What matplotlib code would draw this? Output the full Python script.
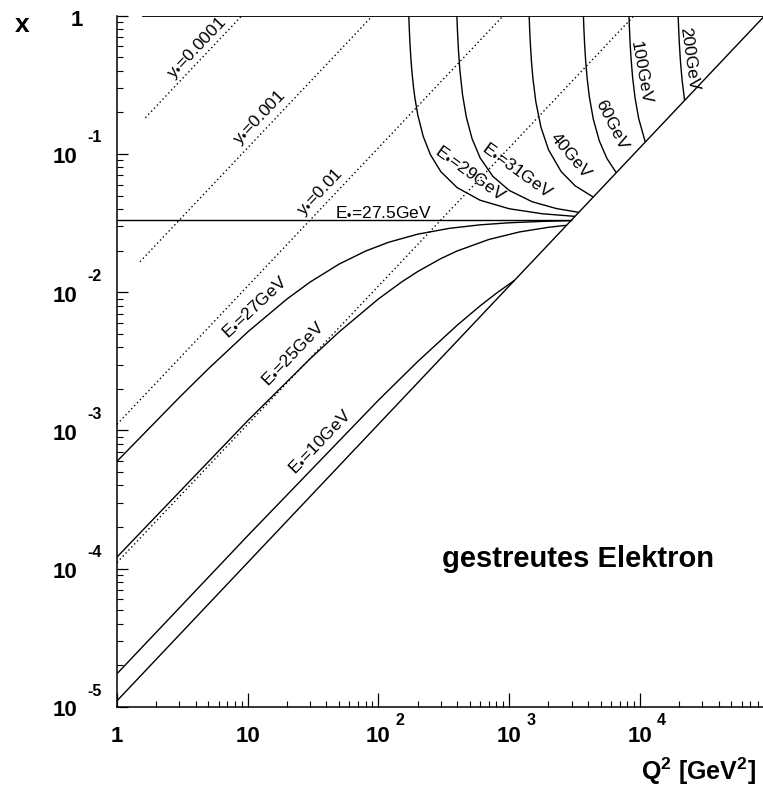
import matplotlib
matplotlib.use('Agg')
import matplotlib.pyplot as plt
from matplotlib.ticker import LogLocator, NullFormatter

plt.rcParams['font.family'] = ['Liberation Sans', 'DejaVu Sans']
plt.rcParams['mathtext.fontset'] = 'custom'
plt.rcParams['mathtext.rm'] = 'Liberation Sans'
plt.rcParams['mathtext.bf'] = 'Liberation Sans:bold'
plt.rcParams['mathtext.it'] = 'Liberation Sans:italic'

# ---------------- data (Q^2 in GeV^2, x) ----------------
# lines of constant scattered-electron energy E'
q2_E10 = [1, 10, 100, 200, 400, 600, 800, 1100]
x_E10 = [1.741e-5, 1.733e-4, 1.656e-3, 3.156e-3, 5.770e-3, 7.969e-3, 9.846e-3, 0.012195]

q2_E25 = [1, 10, 30, 50, 100, 150, 200, 300, 400, 700, 1200, 2000, 2750]
x_E25 = [1.2151e-4, 1.1767e-3, 3.2987e-3, 5.1595e-3, 8.943e-3, 0.011836, 0.014121,
         0.017497, 0.019873, 0.024078, 0.027284, 0.029483, 0.030488]

q2_E27 = [1, 3, 5, 10, 20, 30, 50, 80, 120, 200, 350, 600, 1000, 1800, 2970]
x_E27 = [5.9887e-4, 1.7346e-3, 2.7947e-3, 5.1594e-3, 8.943e-3, 0.011837, 0.015970,
         0.019873, 0.022997, 0.026303, 0.028982, 0.030720, 0.031788, 0.032542, 0.032927]

q2_E275 = [1, 3025]
x_E275 = [0.033537, 0.033537]

q2_E29 = [170.73, 172, 174, 177, 180, 185, 190, 200, 220, 250, 300, 400, 600, 1000, 1800, 3190]
x_E29 = [1.0, 0.82404, 0.64838, 0.49466, 0.40244, 0.31021, 0.25488, 0.19164, 0.13415,
         0.098639, 0.074526, 0.057083, 0.046257, 0.040163, 0.036921, 0.035366]

q2_E31 = [398.36, 402, 410, 420, 440, 470, 520, 600, 750, 1000, 1500, 2300, 3410]
x_E31 = [1.0, 0.79304, 0.55000, 0.40244, 0.26829, 0.18544, 0.12918, 0.093591,
         0.068911, 0.054532, 0.045116, 0.040279, 0.037805]

q2_E40 = [1422.7, 1435, 1450, 1480, 1520, 1600, 1750, 2000, 2500, 3200, 4400]
x_E40 = [1.0, 0.80208, 0.64837, 0.47271, 0.35156, 0.23848, 0.15650, 0.10732,
         0.074526, 0.058804, 0.048780]

q2_E60 = [3699.1, 3730, 3780, 3850, 3950, 4100, 4400, 4900, 5600, 6600]
x_E60 = [1.0, 0.80704, 0.61838, 0.46951, 0.35325, 0.26191, 0.17886, 0.12402, 0.092743, 0.073171]

q2_E100 = [8251.7, 8300, 8400, 8550, 8800, 9200, 9800, 11000]
x_E100 = [1.0, 0.85647, 0.66284, 0.49867, 0.35772, 0.25187, 0.18009, 0.121951]

q2_E200 = [19633.8, 19750, 20000, 20400, 21000, 22000]
x_E200 = [1.0, 0.85464, 0.65438, 0.48011, 0.34779, 0.243902]

# lines of constant inelasticity y (dotted) and the kinematic limits
q2_y00001 = [1.65, 9.02]
x_y00001 = [0.183, 1.0]
q2_y0001 = [1.50, 90.2]
x_y0001 = [0.01663, 1.0]
q2_y001 = [1, 902]
x_y001 = [0.0011086, 1.0]
q2_y01 = [1, 9020]
x_y01 = [1.1086e-4, 1.0]
q2_y1 = [1, 90200]
x_y1 = [1.1086e-5, 1.0]
q2_xmax = [1.57, 90200]
x_xmax = [1.0, 1.0]

# axis tick labels
ytick_vals = [1e-5, 1e-4, 1e-3, 1e-2, 1e-1, 1]
ytick_exps = ['-5', '-4', '-3', '-2', '-1', '']
xtick_vals = [1, 10, 100, 1000, 10000]
xtick_bases = ['1', '10', '10', '10', '10']
xtick_exps = ['', '', '2', '3', '4']

# ---------------- figure ----------------
W, H = 763, 789
fig = plt.figure(figsize=(W / 100, H / 100), dpi=100)
ax = fig.add_axes([117 / W, 1 - 707 / H, 646 / W, (707 - 15.7) / H])
ax.set_xscale('log')
ax.set_yscale('log')
ax.set_xlim(1, 87500)
ax.set_ylim(1e-5, 1)

for s in ['top', 'right']:
    ax.spines[s].set_visible(False)
for s in ['left', 'bottom']:
    ax.spines[s].set_linewidth(1.1)

ax.xaxis.set_minor_locator(LogLocator(base=10, subs=range(2, 10), numticks=30))
ax.yaxis.set_minor_locator(LogLocator(base=10, subs=range(2, 10), numticks=30))
ax.xaxis.set_major_locator(LogLocator(base=10, numticks=30))
ax.yaxis.set_major_locator(LogLocator(base=10, numticks=30))
ax.xaxis.set_major_formatter(NullFormatter())
ax.xaxis.set_minor_formatter(NullFormatter())
ax.yaxis.set_major_formatter(NullFormatter())
ax.yaxis.set_minor_formatter(NullFormatter())
ax.tick_params(axis='x', which='major', direction='in', length=10, width=0.9, top=False)
ax.tick_params(axis='y', which='major', direction='in', length=8, width=0.9, right=False)
ax.tick_params(axis='both', which='minor', direction='in', length=4.3, width=0.8,
               top=False, right=False)

solid = dict(color='black', lw=1.0, solid_capstyle='butt')
dotted = dict(color='black', lw=1.0, linestyle=(0, (1, 2)))

for q, xv in [(q2_E10, x_E10), (q2_E25, x_E25), (q2_E27, x_E27), (q2_E275, x_E275),
              (q2_E29, x_E29), (q2_E31, x_E31), (q2_E40, x_E40), (q2_E60, x_E60),
              (q2_E100, x_E100), (q2_E200, x_E200), (q2_y1, x_y1)]:
    ax.plot(q, xv, **solid)
ax.plot(q2_xmax, x_xmax, color='black', lw=1.3)
for q, xv in [(q2_y00001, x_y00001), (q2_y0001, x_y0001), (q2_y001, x_y001), (q2_y01, x_y01)]:
    ax.plot(q, xv, **dotted)

# curve labels
lab = dict(fontsize=12.5, ha='center', va='center', rotation_mode='anchor', color='black')
ax.text(4.09, 0.584, r'y$_{•}$=0.0001', rotation=46.6, **lab)
ax.text(12.4, 0.182, r'y$_{•}$=0.001', rotation=46.6, **lab)
ax.text(35.7, 0.0531, r'y$_{•}$=0.01', rotation=46.6, **lab)
ax.text(46.6, 0.0381, r'E$_{•}$=27.5GeV', rotation=0,
        **{**lab, 'ha': 'left'})
ax.text(11.17, 7.96e-3, r'E$_{•}$=27GeV', rotation=43, **lab)
ax.text(21.8, 3.64e-3, r'E$_{•}$=25GeV', rotation=46, **lab)
ax.text(35.1, 8.41e-4, r'E$_{•}$=10GeV', rotation=46, **lab)
ax.text(511, 0.0741, r'E$_{•}$=29GeV', rotation=-36, **lab)
ax.text(1170, 0.0779, r'E$_{•}$=31GeV', rotation=-36, **lab)
ax.text(2924, 0.0967, '40GeV', rotation=-50, **lab)
ax.text(6026, 0.162, '60GeV', rotation=-63, **lab)
ax.text(10210, 0.385, '100GeV', rotation=-80, **lab)
ax.text(23780, 0.486, '200GeV', rotation=-82, **lab)

# tick labels
for v, e in zip(ytick_vals, ytick_exps):
    if e == '':
        ax.annotate('1', xy=(0, v), xycoords=('axes fraction', 'data'), xytext=(-34, -10.5),
                    textcoords='offset pixels', ha='right', va='baseline',
                    fontsize=16, weight='bold')
    else:
        ax.annotate('10', xy=(0, v), xycoords=('axes fraction', 'data'), xytext=(-40, -9.5),
                    textcoords='offset pixels', ha='right', va='baseline',
                    fontsize=16, weight='bold')
        ax.annotate(e, xy=(0, v), xycoords=('axes fraction', 'data'), xytext=(-30, 11.5),
                    textcoords='offset pixels', ha='left', va='baseline',
                    fontsize=11.5, weight='bold')
for v, b, e in zip(xtick_vals, xtick_bases, xtick_exps):
    ax.annotate(b, xy=(v, 0), xycoords=('data', 'axes fraction'), xytext=(0, -35),
                textcoords='offset pixels', ha='center', va='baseline',
                fontsize=16, weight='bold')
    if e:
        ax.annotate(e, xy=(v, 0), xycoords=('data', 'axes fraction'), xytext=(17, -18),
                    textcoords='offset pixels', ha='left', va='baseline',
                    fontsize=11.5, weight='bold')

# axis titles and annotation
fig.text(22 / W, 1 - 25 / H, 'x', ha='center', va='center', fontsize=19, weight='bold')
fig.text(756 / W, 1 - 780 / H, r'$\mathbf{Q^2}$ $\mathbf{[GeV^2]}$', ha='right',
         va='baseline', fontsize=18)
fig.text(441.7 / W, 1 - 567 / H, 'gestreutes Elektron', ha='left', va='baseline',
         fontsize=21, weight='bold')

fig.savefig('out.png', dpi=100)
